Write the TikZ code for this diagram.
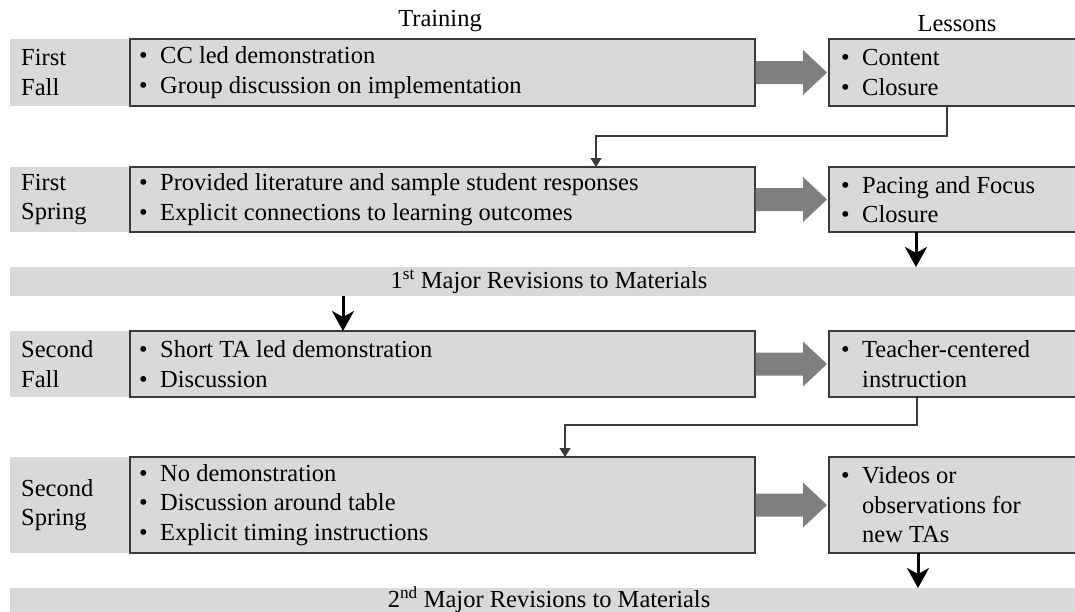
\documentclass[tikz,border=0pt]{standalone}
\usepackage{fontspec}
\setmainfont{Liberation Serif}
\usetikzlibrary{calc,arrows.meta}
\definecolor{boxgray}{HTML}{D9D9D9}
\definecolor{arrgray}{HTML}{7F7F7F}
\definecolor{linegray}{HTML}{3A3A3A}
\newcommand{\bl}{\makebox[21pt][l]{\textbullet}}
\newcommand{\ind}{\hspace*{21pt}}
\newcommand{\fatarrow}[2]{\fill[fat] ($(#1.east)+(0.7,-11.5)$) -- ($(#2.west)+(-26,-11.5)$) -- ($(#2.west)+(-26,-22.5)$) -- ($(#2.west)+(-2,0)$) -- ($(#2.west)+(-26,22.5)$) -- ($(#2.west)+(-26,11.5)$) -- ($(#1.east)+(0.7,11.5)$) -- cycle;}
\begin{document}
\begin{tikzpicture}[x=1pt,y=-1pt,
  font=\rmfamily\fontsize{24.5}{29.5}\selectfont,
  box/.style={draw=linegray, line width=1.3pt, fill=boxgray, anchor=north west, inner sep=0pt, outer sep=0pt},
  strip/.style={fill=boxgray, anchor=north west, inner sep=0pt, outer sep=0pt},
  txt/.style={anchor=west, align=left, inner sep=0pt},
  conn/.style={draw=linegray, line width=1.2pt, -{Triangle[width=11pt,length=9pt]}},
  bigarrow/.style={line width=3pt, -{Stealth[width=22pt,length=20pt,inset=6pt]}},
  fat/.style={fill=arrgray}
]
\useasboundingbox (0,0) rectangle (1075,611);
\clip (0,0) rectangle (1075,611);

% headers
\node (h1) at (440,21) {Training};
\node (h2) at (957,24) {Lessons};

% row 1
\node[strip, minimum width=120pt, minimum height=67pt] (s1) at (10,39) {};
\node[box, minimum width=625pt, minimum height=67pt] (t1) at (130,39) {};
\node[box, minimum width=260pt, minimum height=67pt] (l1) at (829,39) {};
\node[txt] (r1) at (21,72.5) {First\\Fall};
\node[txt] (x1) at (139,72.5) {\bl CC led demonstration\\\bl Group discussion on implementation};
\node[txt] (y1) at (841,72.5) {\bl Content\\\bl Closure};

% row 2
\node[strip, minimum width=120pt, minimum height=65pt] (s2) at (10,167) {};
\node[box, minimum width=625pt, minimum height=65pt] (t2) at (130,167) {};
\node[box, minimum width=260pt, minimum height=65pt] (l2) at (829,167) {};
\node[txt] (r2) at (21,199.5) {First\\Spring};
\node[txt] (x2) at (139,199.5) {\bl Provided literature and sample student responses\\\bl Explicit connections to learning outcomes};
\node[txt] (y2) at (841,199.5) {\bl Pacing and Focus\\\bl Closure};

% bar 1
\node[strip, minimum width=1080pt, minimum height=29pt] (b1) at (10,267) {};
\node (b1t) at (549,281.5) {1\textsuperscript{st} Major Revisions to Materials};

% row 3
\node[strip, minimum width=120pt, minimum height=66pt] (s3) at (10,331) {};
\node[box, minimum width=625pt, minimum height=66pt] (t3) at (130,331) {};
\node[box, minimum width=260pt, minimum height=66pt] (l3) at (829,331) {};
\node[txt] (r3) at (21,364) {Second\\Fall};
\node[txt] (x3) at (139,364) {\bl Short TA led demonstration\\\bl Discussion};
\node[txt] (y3) at (841,364) {\bl Teacher-centered\\\ind instruction};

% row 4
\node[strip, minimum width=120pt, minimum height=96pt] (s4) at (10,457) {};
\node[box, minimum width=625pt, minimum height=96pt] (t4) at (130,457) {};
\node[box, minimum width=260pt, minimum height=96pt] (l4) at (829,457) {};
\node[txt] (r4) at (21,505) {Second\\Spring};
\node[txt] (x4) at (139,505) {\bl No demonstration\\\bl Discussion around table\\\bl Explicit timing instructions};
\node[txt] (y4) at (841,505) {\bl Videos or\\\ind observations for\\\ind new TAs};

% bar 2
\node[strip, minimum width=1080pt, minimum height=30pt] (b2) at (10,588) {};
\node (b2t) at (549,600) {2\textsuperscript{nd} Major Revisions to Materials};

% fat arrows
\fatarrow{t1}{l1}
\fatarrow{t2}{l2}
\fatarrow{t3}{l3}
\fatarrow{t4}{l4}

% thin connectors
\coordinate (c1s) at ($(l1.south west)+(118,0)$);
\coordinate (c1e) at ($(t2.north west)+(466,0)$);
\draw[conn] (c1s) -- ++(0,30) -| (c1e);
\coordinate (c2s) at ($(l3.south west)+(88,0)$);
\coordinate (c2e) at ($(t4.north west)+(435,0)$);
\draw[conn] (c2s) -- ++(0,28) -| (c2e);

% thick arrows
\coordinate (a1) at ($(l2.south west)+(87,0)$);
\draw[bigarrow] (a1) -- (a1 |- b1.north);
\coordinate (a2) at ($(b1.south west)+(333,0)$);
\draw[bigarrow] (a2) -- (a2 |- t3.north);
\coordinate (a3) at ($(l4.south west)+(89,0)$);
\draw[bigarrow] (a3) -- (a3 |- b2.north);
\end{tikzpicture}
\end{document}
